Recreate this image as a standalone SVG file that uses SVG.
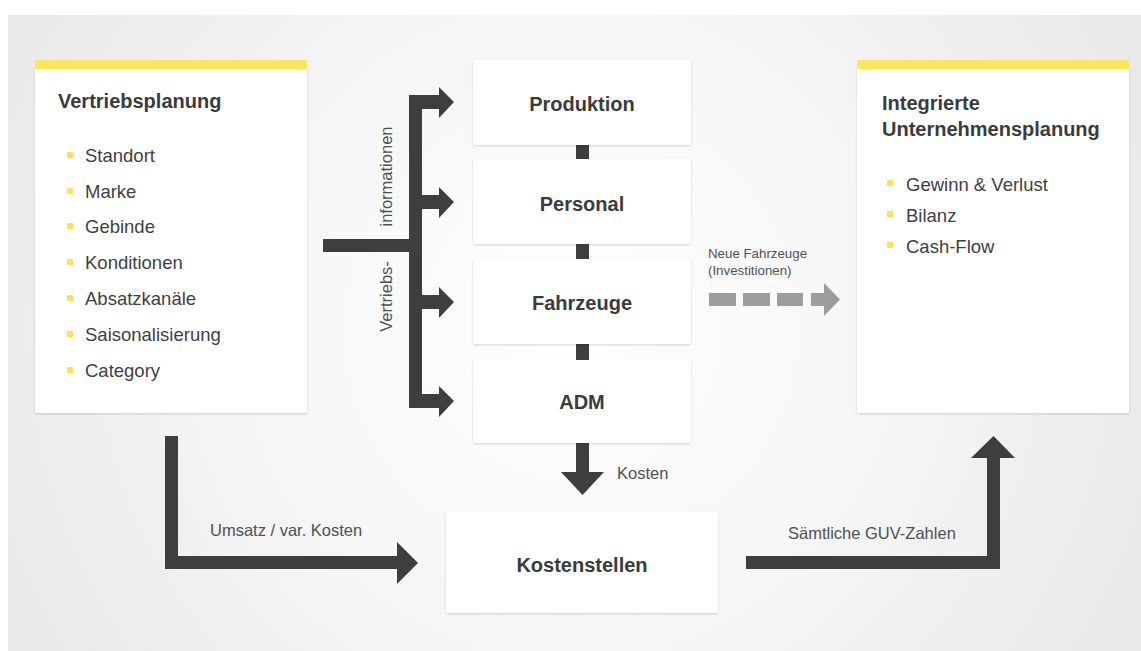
<svg xmlns="http://www.w3.org/2000/svg" width="1141" height="651" viewBox="0 0 1141 651">
  <defs>
    <radialGradient id="bg" cx="570" cy="330" r="620" gradientUnits="userSpaceOnUse">
      <stop offset="0" stop-color="#ffffff"/>
      <stop offset="0.55" stop-color="#f5f5f5"/>
      <stop offset="1" stop-color="#e9e9e9"/>
    </radialGradient>
    <filter id="sh" x="-5%" y="-5%" width="110%" height="115%">
      <feDropShadow dx="0" dy="1" stdDeviation="1" flood-color="#000" flood-opacity="0.16"/>
    </filter>
  </defs>
  <style>
    .card { fill: #ffffff; filter: url(#sh); }
    .bar { fill: #ffe55a; }
    .bul { fill: #ffe14f; }
    .title { font-family: "Liberation Sans", Arial, sans-serif; font-weight: bold; font-size: 20px; fill: #3a3b3d; }
    .item { font-family: "Liberation Sans", Arial, sans-serif; font-size: 18.5px; fill: #3f4042; }
    .lbl { font-family: "Liberation Sans", Arial, sans-serif; font-size: 16.5px; fill: #505153; }
    .small { font-family: "Liberation Sans", Arial, sans-serif; font-size: 13.3px; fill: #505153; }
    .node { font-family: "Liberation Sans", Arial, sans-serif; font-weight: bold; font-size: 20px; fill: #3a3b3d; text-anchor: middle; }
    .dark { fill: #3d3e40; }
    .gray { fill: #9d9d9d; }
  </style>

  <rect x="0" y="0" width="1141" height="651" fill="#ffffff"/>
  <rect x="8" y="15" width="1133" height="636" fill="url(#bg)"/>

  <g id="connectors">
    <!-- Vertriebsinformationen distribution -->
    <path class="dark" d="M323 239H409V95H439V87L454 102L439 118V109H422V195H439V187L454 202L439 218V209H422V295H439V287L454 302L439 318V309H422V394H439V386L454 401L439 417V408H409V252H323Z"/>
    <!-- links between center boxes -->
    <rect class="dark" x="576" y="145" width="13" height="14"/>
    <rect class="dark" x="576" y="244" width="13" height="15"/>
    <rect class="dark" x="576" y="344" width="13" height="16"/>
    <!-- Kosten arrow -->
    <path class="dark" d="M576 443H589V472H604L582.5 495L561 472H576Z"/>
    <!-- Umsatz / var. Kosten -->
    <path class="dark" d="M165 436H178V556H397V542L418 563L397 584V569H165Z"/>
    <!-- Sämtliche GUV-Zahlen -->
    <path class="dark" d="M746 556H987V458H971L993.5 436L1015 458H1000V569H746Z"/>
    <!-- Neue Fahrzeuge dashed -->
    <rect class="gray" x="709" y="293" width="27" height="13"/>
    <rect class="gray" x="743" y="293" width="27" height="13"/>
    <rect class="gray" x="777" y="293" width="26" height="13"/>
    <path class="gray" d="M811 293H824V283L840 299.5L824 316V306H811Z"/>
    <text class="lbl" transform="translate(392,176.5) rotate(-90)" text-anchor="middle" font-size="17.8">informationen</text>
    <text class="lbl" transform="translate(392,296.5) rotate(-90)" text-anchor="middle" font-size="17.2">Vertriebs-</text>
    <text class="lbl" x="617" y="479">Kosten</text>
    <text class="lbl" x="210" y="536">Umsatz / var. Kosten</text>
    <text class="lbl" x="788" y="539">Sämtliche GUV-Zahlen</text>
    <text class="small" x="708" y="258">Neue Fahrzeuge</text>
    <text class="small" x="708" y="275">(Investitionen)</text>
  </g>

  <g id="vertriebsplanung">
    <rect class="card" x="35" y="67" width="272" height="346" rx="2"/>
    <path class="bar" d="M35 69V62Q35 60 37 60H305Q307 60 307 62V69Z"/>
    <text class="title" x="58" y="108">Vertriebsplanung</text>
    <rect class="bul" x="67" y="152" width="6" height="6"/>
    <text class="item" x="85" y="162">Standort</text>
    <rect class="bul" x="67" y="188" width="6" height="6"/>
    <text class="item" x="85" y="198">Marke</text>
    <rect class="bul" x="67" y="223" width="6" height="6"/>
    <text class="item" x="85" y="233">Gebinde</text>
    <rect class="bul" x="67" y="259" width="6" height="6"/>
    <text class="item" x="85" y="269">Konditionen</text>
    <rect class="bul" x="67" y="295" width="6" height="6"/>
    <text class="item" x="85" y="305">Absatzkanäle</text>
    <rect class="bul" x="67" y="331" width="6" height="6"/>
    <text class="item" x="85" y="341">Saisonalisierung</text>
    <rect class="bul" x="67" y="367" width="6" height="6"/>
    <text class="item" x="85" y="377">Category</text>
  </g>

  <g id="produktion">
    <rect class="card" x="473" y="60" width="218" height="85" rx="2"/>
    <text class="node" x="582" y="111">Produktion</text>
  </g>
  <g id="personal">
    <rect class="card" x="473" y="159" width="218" height="85" rx="2"/>
    <text class="node" x="582" y="210.5">Personal</text>
  </g>
  <g id="fahrzeuge">
    <rect class="card" x="473" y="259" width="218" height="85" rx="2"/>
    <text class="node" x="582" y="310">Fahrzeuge</text>
  </g>
  <g id="adm">
    <rect class="card" x="473" y="360" width="218" height="83" rx="2"/>
    <text class="node" x="582" y="409">ADM</text>
  </g>
  <g id="kostenstellen">
    <rect class="card" x="446" y="512" width="272" height="101" rx="2"/>
    <text class="node" x="582" y="572">Kostenstellen</text>
  </g>

  <g id="unternehmensplanung">
    <rect class="card" x="857" y="67" width="272" height="346" rx="2"/>
    <path class="bar" d="M857 69V62Q857 60 859 60H1127Q1129 60 1129 62V69Z"/>
    <text class="title" x="882" y="110">Integrierte</text>
    <text class="title" x="882" y="136">Unternehmensplanung</text>
    <rect class="bul" x="887" y="180" width="6" height="6"/>
    <text class="item" x="906" y="191">Gewinn &amp; Verlust</text>
    <rect class="bul" x="887" y="211" width="6" height="6"/>
    <text class="item" x="906" y="222">Bilanz</text>
    <rect class="bul" x="887" y="242" width="6" height="6"/>
    <text class="item" x="906" y="253">Cash-Flow</text>
  </g>
</svg>
